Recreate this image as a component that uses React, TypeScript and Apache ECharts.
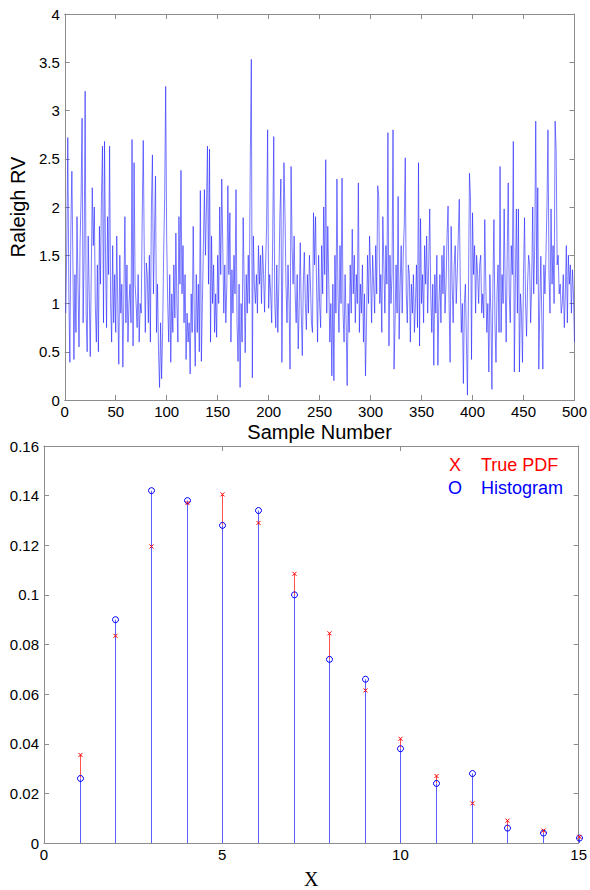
import React, { useEffect, useRef } from "react";
import * as echarts from "echarts";

// ---------- Top chart data: Rayleigh random variable samples (1..500) ----------
const rayleighSamples: number[] = [
  0.9, 1.6, 2.72, 1.1, 0.39, 1.8, 2.37, 1.4, 0.42, 1.3,
  0.7, 1.9, 1.2, 0.55, 1.6, 2.1, 2.92, 0.8, 1.5, 3.2,
  0.9, 0.5, 1.7, 1.1, 0.45, 1.3, 2.2, 1.6, 2.0, 0.97,
  0.6, 1.4, 0.5, 1.8, 1.2, 2.1, 2.63, 0.8, 2.68, 1.5,
  0.75, 1.9, 1.3, 2.63, 1.0, 0.6, 1.6, 0.8, 1.3, 0.7,
  1.7, 1.0, 0.37, 1.5, 0.9, 1.2, 0.34, 1.1, 1.9, 0.8,
  1.4, 0.6, 1.0, 1.2, 0.8, 2.7, 0.56, 2.46, 1.2, 1.0,
  0.75, 1.3, 0.6, 1.0, 0.9, 1.9, 2.69, 1.5, 0.7, 1.42,
  1.29, 0.8, 1.5, 0.6, 2.0, 2.54, 1.1, 1.7, 2.32, 0.7,
  1.2, 0.5, 0.13, 0.8, 0.22, 0.7, 1.5, 2.1, 3.25, 1.67,
  1.0, 0.6, 1.3, 0.39, 1.1, 0.7, 1.4, 0.85, 1.73, 1.0,
  0.6, 1.9, 1.2, 2.38, 1.1, 1.6, 0.8, 1.3, 0.42, 0.9,
  0.6, 0.8, 0.27, 1.1, 0.7, 1.8, 0.9, 0.35, 1.3, 0.7,
  1.2, 0.5, 2.17, 0.4, 1.0, 1.6, 2.18, 1.5, 2.0, 2.63,
  1.2, 2.6, 0.6, 1.7, 1.0, 1.4, 0.7, 1.1, 0.65, 1.5,
  1.0, 2.0, 1.3, 2.29, 1.6, 0.9, 1.4, 0.8, 1.2, 2.22,
  1.3, 1.94, 0.6, 1.35, 0.9, 1.5, 1.1, 2.18, 0.8, 0.4,
  1.2, 0.13, 1.0, 0.6, 1.89, 1.2, 0.49, 1.3, 0.9, 1.5,
  1.0, 2.5, 3.53, 0.23, 1.7, 1.2, 1.0, 1.3, 0.9, 1.6,
  1.2, 1.5, 1.0, 1.6, 1.3, 0.91, 1.4, 1.8, 2.8, 0.95,
  1.3, 1.1, 0.8, 1.7, 2.73, 1.0, 0.75, 1.4, 0.7, 1.2,
  1.9, 2.29, 0.39, 1.5, 2.46, 1.94, 1.2, 0.8, 1.4, 1.0,
  0.32, 2.42, 1.6, 1.2, 1.7, 1.1, 0.8, 1.3, 0.53, 1.0,
  1.63, 0.9, 0.46, 1.2, 1.53, 1.0, 0.73, 1.3, 0.9, 1.5,
  1.2, 0.8, 0.7, 1.94, 1.4, 1.9, 1.2, 0.6, 1.5, 1.0,
  0.75, 1.6, 1.1, 2.0, 1.3, 2.49, 0.9, 1.8, 1.2, 0.6,
  1.0, 0.25, 1.2, 0.2, 1.5, 0.9, 2.29, 1.1, 0.7, 1.6,
  1.0, 2.3, 0.9, 0.6, 1.3, 0.8, 0.15, 1.0, 0.7, 1.4,
  0.9, 1.77, 1.1, 1.5, 0.8, 1.3, 1.0, 2.25, 0.7, 1.2,
  0.9, 1.4, 0.6, 1.1, 0.25, 0.8, 1.5, 1.0, 1.7, 1.3,
  0.8, 1.5, 1.2, 0.9, 1.6, 1.1, 2.22, 2.1, 1.0, 1.3,
  0.7, 1.9, 1.4, 0.9, 1.6, 1.2, 2.77, 0.56, 1.5, 1.0,
  1.3, 2.8, 0.32, 0.8, 1.4, 0.9, 2.11, 0.63, 1.2, 1.6,
  0.9, 1.5, 1.8, 2.51, 1.1, 0.8, 1.4, 1.3, 0.6, 1.2,
  0.9, 1.3, 0.7, 1.0, 1.4, 0.75, 2.46, 0.56, 1.88, 1.0,
  1.3, 0.8, 1.6, 1.2, 1.7, 0.9, 1.4, 1.98, 1.1, 0.7,
  1.2, 0.36, 1.3, 0.9, 1.5, 0.36, 1.0, 1.3, 0.8, 1.5,
  1.1, 1.6, 0.9, 1.2, 1.7, 2.01, 1.0, 0.39, 1.8, 1.2,
  0.8, 1.4, 1.6, 1.0, 1.3, 1.7, 2.08, 1.2, 0.7, 1.0,
  0.17, 1.0, 1.2, 0.6, 0.05, 1.1, 2.35, 2.1, 0.42, 1.94,
  1.3, 1.6, 0.9, 1.5, 1.3, 1.0, 1.4, 1.5, 0.9, 1.1,
  0.85, 1.87, 1.2, 0.7, 1.0, 0.29, 1.3, 0.9, 0.11, 1.2,
  1.87, 0.8, 0.39, 1.1, 1.4, 0.7, 2.42, 0.7, 1.3, 1.0,
  1.98, 1.2, 0.6, 1.5, 2.25, 1.1, 0.8, 1.6, 1.3, 2.68,
  0.29, 1.2, 1.98, 0.9, 1.98, 0.29, 1.1, 0.9, 0.39, 1.3,
  1.89, 1.0, 0.66, 1.2, 1.5, 1.4, 0.8, 1.2, 2.0, 1.1,
  1.6, 2.89, 1.2, 2.2, 0.32, 1.0, 1.49, 0.8, 0.32, 1.4,
  1.1, 1.5, 2.0, 2.8, 1.3, 0.9, 1.98, 1.2, 1.6, 1.0,
  2.89, 2.6, 1.4, 1.5, 1.1, 1.2, 0.9, 1.0, 1.3, 0.75,
  1.1, 1.6, 0.8, 1.5, 1.2, 1.4, 0.9, 1.35, 1.1, 0.6,
];

const topXTicks = [0, 50, 100, 150, 200, 250, 300, 350, 400, 450, 500];
const topYTicks = [0, 0.5, 1, 1.5, 2, 2.5, 3, 3.5, 4];

// ---------- Bottom chart data ----------
const xValues = [1, 2, 3, 4, 5, 6, 7, 8, 9, 10, 11, 12, 13, 14, 15];
const truePdf = [0.0355, 0.0835, 0.1195, 0.137, 0.1405, 0.129, 0.1085, 0.0845, 0.0615, 0.042, 0.027, 0.016, 0.009, 0.005, 0.0025];
const histogram = [0.026, 0.09, 0.142, 0.138, 0.128, 0.134, 0.1, 0.074, 0.066, 0.038, 0.024, 0.028, 0.006, 0.004, 0.002];

const bottomXTicks = [0, 5, 10, 15];
const bottomYTicks = [0, 0.02, 0.04, 0.06, 0.08, 0.1, 0.12, 0.14, 0.16];

const SANS = "'Liberation Sans', Arial, sans-serif";
const SERIF = "'Liberation Serif', 'Times New Roman', serif";
const AXIS_GRAY = "#8c8c8c";

function axisBase(ticks: number[], showLabels: boolean, position: string, gridIndex: number, type: "x" | "y") {
  return {
    type: "value",
    gridIndex,
    position,
    min: ticks[0],
    max: ticks[ticks.length - 1],
    interval: ticks[1] - ticks[0],
    splitLine: { show: false },
    axisLine: { show: true, onZero: false, lineStyle: { color: AXIS_GRAY, width: 1 } },
    axisTick: { show: true, inside: true, length: 5, lineStyle: { color: AXIS_GRAY } },
    axisLabel: {
      show: showLabels,
      color: "#000",
      fontFamily: SANS,
      fontSize: 15,
      margin: type === "x" ? 4 : 5,
      showMinLabel: true,
      showMaxLabel: true,
    },
  };
}

export default function App() {
  const ref = useRef<HTMLDivElement>(null);

  useEffect(() => {
    document.body.style.margin = "0";
    if (!ref.current) return;
    const chart = echarts.init(ref.current, undefined, { renderer: "svg" });

    const topData = rayleighSamples.map((v, i) => [i + 1, v]);
    // [x, pdf, hist]
    const bottomData = xValues.map((x, i) => [x, truePdf[i], histogram[i]]);

    const stemRender = (params: any, api: any) => {
      const x = api.value(0);
      const pdf = api.value(1);
      const hist = api.value(2);
      const pdfPt = api.coord([x, pdf]);
      const histPt = api.coord([x, hist]);
      const base = api.coord([x, 0]);
      const px = Math.round(histPt[0]);
      const cx = px + 0.5;
      const children: any[] = [];
      // red stem (visible part above the blue stem)
      if (pdf > hist) {
        children.push({
          type: "rect",
          shape: { x: px, y: pdfPt[1], width: 1, height: histPt[1] - pdfPt[1] },
          style: { fill: "#ff5050", stroke: null },
        });
      }
      // blue stem
      children.push({
        type: "rect",
        shape: { x: px, y: histPt[1], width: 1, height: base[1] - histPt[1] },
        style: { fill: "#5c5cff", stroke: null },
      });
      // blue circle marker
      children.push({
        type: "circle",
        shape: { cx, cy: histPt[1], r: 3 },
        style: { fill: "none", stroke: "#0000ff", lineWidth: 1 },
      });
      // red x marker
      const s = 2;
      children.push({
        type: "line",
        shape: { x1: cx - s, y1: pdfPt[1] - s, x2: cx + s, y2: pdfPt[1] + s },
        style: { fill: "none", stroke: "#ff0000", lineWidth: 1 },
      });
      children.push({
        type: "line",
        shape: { x1: cx - s, y1: pdfPt[1] + s, x2: cx + s, y2: pdfPt[1] - s },
        style: { fill: "none", stroke: "#ff0000", lineWidth: 1 },
      });
      return { type: "group", children };
    };

    chart.setOption({
      animation: false,
      backgroundColor: "#fff",
      grid: [
        { left: 58, right: 14, top: 14, height: 386 },
        { left: 44, right: 9, top: 446, height: 407 },
      ],
      xAxis: [
        {
          ...axisBase(topXTicks, true, "bottom", 0, "x"),
          name: "Sample Number",
          nameLocation: "middle",
          nameGap: 22,
          nameTextStyle: { color: "#000", fontFamily: SANS, fontSize: 20 },
        },
        axisBase(topXTicks, false, "top", 0, "x"),
        {
          ...axisBase(bottomXTicks, true, "bottom", 1, "x"),
          name: "X",
          nameLocation: "middle",
          nameGap: 26,
          nameTextStyle: { color: "#000", fontFamily: SERIF, fontSize: 20 },
        },
        axisBase(bottomXTicks, false, "top", 1, "x"),
      ],
      yAxis: [
        {
          ...axisBase(topYTicks, true, "left", 0, "y"),
          name: "Raleigh RV",
          nameLocation: "middle",
          nameGap: 30,
          nameRotate: 90,
          nameTextStyle: { color: "#000", fontFamily: SANS, fontSize: 20 },
        },
        axisBase(topYTicks, false, "right", 0, "y"),
        axisBase(bottomYTicks, true, "left", 1, "y"),
        axisBase(bottomYTicks, false, "right", 1, "y"),
      ],
      series: [
        {
          type: "line",
          xAxisIndex: 0,
          yAxisIndex: 0,
          data: topData,
          showSymbol: false,
          symbol: "none",
          lineStyle: { color: "#2020ff", width: 0.7, opacity: 0.85 },
        },
        {
          type: "custom",
          name: "Histogram vs True PDF",
          xAxisIndex: 2,
          yAxisIndex: 2,
          data: bottomData,
          renderItem: stemRender,
        },
      ],
      graphic: [
        { type: "text", left: 449, top: 456, style: { text: "X", fill: "#ff0000", font: `18px ${SANS}` } },
        { type: "text", left: 481, top: 456, style: { text: "True PDF", fill: "#ff0000", font: `18px ${SANS}` } },
        { type: "text", left: 448, top: 479, style: { text: "O", fill: "#0000ff", font: `18px ${SANS}` } },
        { type: "text", left: 481, top: 479, style: { text: "Histogram", fill: "#0000ff", font: `18px ${SANS}` } },
      ],
    });

    return () => chart.dispose();
  }, []);

  return <div ref={ref} style={{ width: 590, height: 890 }} />;
}
